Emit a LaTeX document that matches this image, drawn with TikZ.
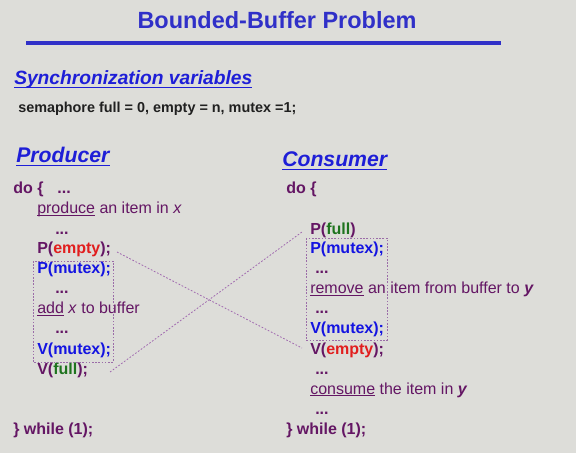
\documentclass[tikz,border=0pt]{standalone}
\usepackage{fontspec}
\setmainfont{Liberation Sans}
\usetikzlibrary{calc}
\definecolor{bgc}{RGB}{221,221,217}
\definecolor{tblue}{RGB}{48,48,200}
\definecolor{hblue}{RGB}{30,30,215}
\definecolor{purp}{RGB}{100,22,100}
\definecolor{cblue}{RGB}{20,20,225}
\definecolor{cred}{RGB}{225,30,30}
\definecolor{cgreen}{RGB}{30,115,30}
\definecolor{dark}{RGB}{32,32,32}
\definecolor{dotc}{RGB}{160,105,175}
\newcommand\myul[1]{{\setbox0\hbox{#1}\rlap{\rule[-1.7pt]{\wd0}{0.6pt}}\box0\relax}}
\begin{document}
\begin{tikzpicture}[x=0.75pt,y=-0.75pt,
  titlesty/.style={anchor=base, inner sep=0pt, text=tblue, font=\fontsize{17.6}{20}\selectfont\bfseries},
  headsty/.style={anchor=base west, inner sep=0pt, text=hblue, font=\fontsize{14.4}{16}\selectfont\bfseries\itshape},
  bighead/.style={headsty, font=\fontsize{15.9}{18}\selectfont\bfseries\itshape},
  hline/.style={draw=hblue, line width=1.2pt},
  semsty/.style={anchor=base west, inner sep=0pt, text=dark, font=\fontsize{10.8}{13}\selectfont\bfseries},
  code/.style={anchor=base west, inner sep=0pt, text=purp, font=\fontsize{12}{14}\selectfont},
  bcode/.style={code, font=\fontsize{12}{14}\selectfont\bfseries},
  conn/.style={draw=dotc, line width=0.6pt, dash pattern=on 1.3pt off 1.3pt},
  crit/.style={draw=dotc!85!gray, line width=0.6pt, dash pattern=on 1.2pt off 1.2pt}]
\fill[bgc] (0,0) rectangle (576,453);
\useasboundingbox (0,0) rectangle (576,453);

\node[titlesty] (title) at (277,29) {Bounded-Buffer Problem};
\draw[draw=tblue, line width=2.3pt] (26,43) -- (501,43);

\node[headsty] (sync) at (14,85) {Synchronization variables};
\draw[hline] ($(sync.base west)+(0,2.5)$) -- ($(sync.base east)+(0,2.5)$);
\node[semsty] (sem) at (18,113) {semaphore full = 0, empty = n, mutex =1;};

% Producer
\node[bighead] (prod) at (16,163) {Producer};
\draw[hline] ($(prod.base west)+(0,2.5)$) -- ($(prod.base east)+(0,2.5)$);
\node[bcode] (pdo) at (13,194) {do \{\hspace{10.5pt}...};
\node[code] (pprod) at (37,214) {\myul{produce} an item in \textit{x}};
\node[bcode] (pd1) at (55,234) {...};
\node[bcode] (pe) at (37,254) {P(\textcolor{cred}{empty});};
\node[bcode, text=cblue] (pm) at (37,274) {P(mutex);};
\node[bcode] (pd2) at (55,294) {...};
\node[code] (padd) at (37,314) {\myul{add} \textit{x} to buffer};
\node[bcode] (pd3) at (55,334) {...};
\node[bcode, text=cblue] (pvm) at (37,354) {V(mutex);};
\node[bcode] (pvf) at (37,374) {V(\textcolor{cgreen}{full});};
\node[bcode] (pwh) at (13,434) {\} while (1);};
\draw[crit] (33,261) rectangle (113,362);

% Consumer
\node[bighead] (cons) at (282,167) {Consumer};
\draw[hline] ($(cons.base west)+(0,2.5)$) -- ($(cons.base east)+(0,2.5)$);
\node[bcode] (cdo) at (286,194) {do \{};
\node[bcode] (cpf) at (310,234) {P(\textcolor{cgreen}{full})};
\node[bcode, text=cblue] (cpm) at (310,254) {P(mutex);};
\node[bcode] (cd1) at (315,274) {...};
\node[code] (crem) at (310,294) {\myul{remove} an item from buffer to \textbf{\textit{y}}};
\node[bcode] (cd2) at (315,314) {...};
\node[bcode, text=cblue] (cvm) at (310,334) {V(mutex);};
\node[bcode] (cve) at (310,354) {V(\textcolor{cred}{empty});};
\node[bcode] (cd3) at (315,374) {...};
\node[code] (ccons) at (310,394) {\myul{consume} the item in \textbf{\textit{y}}};
\node[bcode] (cd4) at (315,414) {...};
\node[bcode] (cwh) at (286,434) {\} while (1);};
\draw[crit] (306,238) rectangle (387,340);

% connectors
\coordinate (a1) at (117,252);
\coordinate (a2) at (302,348);
\coordinate (b1) at (110,372);
\coordinate (b2) at (302,232);
\draw[conn] (a1) -- (a2);
\draw[conn] (b1) -- (b2);
\end{tikzpicture}
\end{document}
